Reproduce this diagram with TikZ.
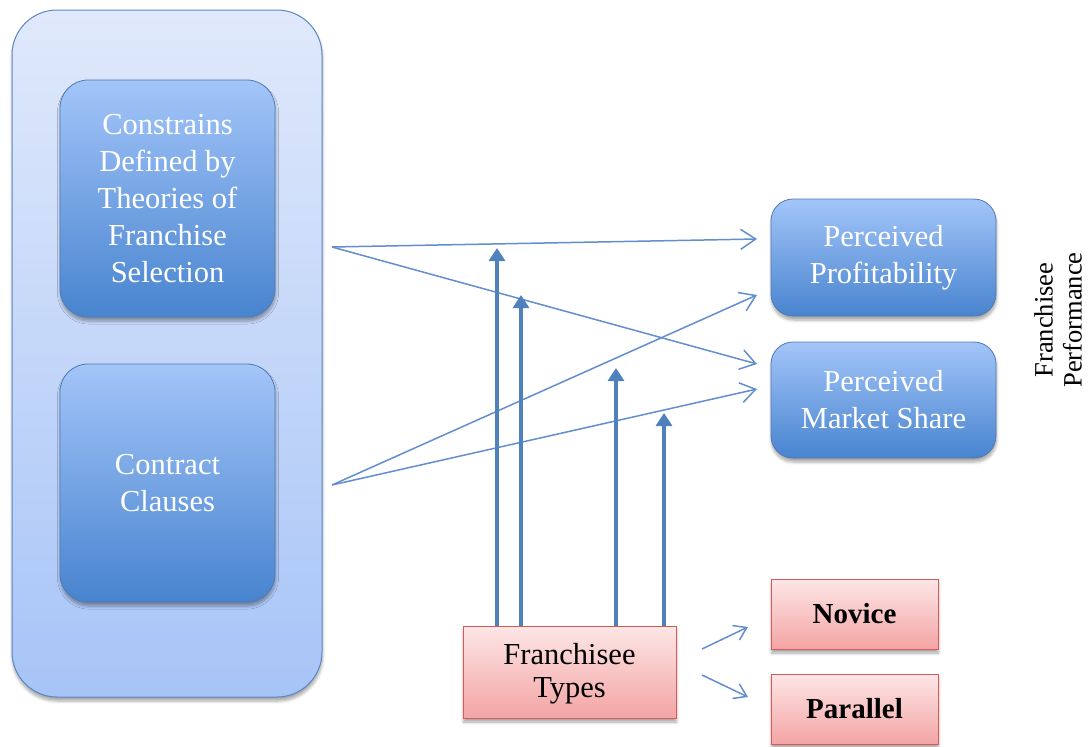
\documentclass[tikz,border=0pt]{standalone}
\usepackage{fontspec}
\setmainfont{Liberation Serif}
\usetikzlibrary{arrows.meta,shadows.blur,calc}

\definecolor{frameblue}{RGB}{91,134,196}
\definecolor{outertop}{RGB}{224,233,251}
\definecolor{outerbot}{RGB}{167,196,247}
\definecolor{innertop}{RGB}{163,197,249}
\definecolor{innerbot}{RGB}{72,132,207}
\definecolor{linkblue}{RGB}{98,142,206}
\definecolor{boldblue}{RGB}{79,129,189}
\definecolor{pinktop}{RGB}{253,230,230}
\definecolor{pinkbot}{RGB}{244,164,164}
\definecolor{pinkframe}{RGB}{214,90,88}

\tikzset{
  softshadow/.style={blur shadow={shadow xshift=0.5pt, shadow yshift=-4pt,
      shadow blur steps=6, shadow blur radius=3pt, shadow opacity=35}},
  container/.style={draw=frameblue, line width=1pt, rounded corners=45pt,
      top color=outertop, bottom color=outerbot, softshadow},
  bluebox/.style={draw=frameblue!90!black, line width=0.8pt, rounded corners=28pt,
      top color=innertop, bottom color=innerbot, softshadow, text=white,
      align=center, font=\fontsize{30.5}{37}\selectfont, inner sep=0pt},
  pinkbox/.style={draw=pinkframe, line width=1pt,
      top color=pinktop, bottom color=pinkbot, softshadow, text=black,
      align=center, inner sep=0pt},
  link/.style={draw=linkblue, line width=1.5pt,
      -{Straight Barb[length=15pt,width=20pt,line width=1.5pt]}},
  smalllink/.style={draw=linkblue, line width=1.5pt,
      -{Straight Barb[length=12pt,width=16pt,line width=1.5pt]}},
  moderator/.style={draw=boldblue, line width=4.5pt,
      -{Triangle[length=13pt,width=16pt]}},
}

\begin{document}
\begin{tikzpicture}[x=1pt,y=-1pt]
  \useasboundingbox (0,0) rectangle (1088,747);

  % left container with the two antecedent blocks
  \node[container, minimum width=310pt, minimum height=687pt] (outer) at (167,353.5) {};
  \node[bluebox, minimum width=215pt, minimum height=237pt] (theory) at (167.5,198.5)
    {Constrains\\Defined by\\Theories of\\Franchise\\Selection};
  \node[bluebox, minimum width=215pt, minimum height=238pt] (contract) at (167.5,483)
    {Contract\\Clauses};

  % performance outcomes
  \node[bluebox, rounded corners=22pt, minimum width=225pt, minimum height=117pt] (profit) at (883.5,257.5)
    {Perceived\\Profitability};
  \node[bluebox, rounded corners=22pt, minimum width=225pt, minimum height=116pt] (share) at (883.5,400)
    {Perceived\\Market Share};
  \node[rotate=90, align=center, font=\fontsize{26.5}{29}\selectfont] (perf) at (1058,320)
    {Franchisee\\Performance};

  % franchisee types
  \node[pinkbox, minimum width=213pt, minimum height=92pt,
        label={[align=center, yshift=-2pt, font=\fontsize{30.5}{33}\selectfont]center:Franchisee\\Types}]
        (types) at (569.5,672) {};
  \node[pinkbox, minimum width=167pt, minimum height=70pt,
        font=\bfseries\fontsize{29}{30}\selectfont] (novice) at (854.5,614) {Novice};
  \node[pinkbox, minimum width=167pt, minimum height=70pt,
        font=\bfseries\fontsize{29}{30}\selectfont] (parallel) at (854.5,709) {Parallel};

  % link end points
  \coordinate (fromTheory) at (332,247);
  \coordinate (fromContract) at (332,485);
  \coordinate (toProfitA) at (757,239);
  \coordinate (toProfitB) at (757,295);
  \coordinate (toShareA) at (757,364);
  \coordinate (toShareB) at (757,389);

  \draw[link] (fromTheory) -- (toProfitA);
  \draw[link] (fromTheory) -- (toShareA);
  \draw[link] (fromContract) -- (toProfitB);
  \draw[link] (fromContract) -- (toShareB);

  % moderating effects of franchisee type
  \coordinate (modA) at (497,248);
  \coordinate (modB) at (521,295);
  \coordinate (modC) at (616,368);
  \coordinate (modD) at (664,413);
  \foreach \m in {modA,modB,modC,modD}
    \draw[moderator] (types.north -| \m) -- (\m);

  % sub-types
  \coordinate (typesOutA) at (702,649);
  \coordinate (typesOutB) at (702,675);
  \coordinate (noviceIn) at (748,627);
  \coordinate (parallelIn) at (748,697);
  \draw[smalllink] (typesOutA) -- (noviceIn);
  \draw[smalllink] (typesOutB) -- (parallelIn);
\end{tikzpicture}
\end{document}
